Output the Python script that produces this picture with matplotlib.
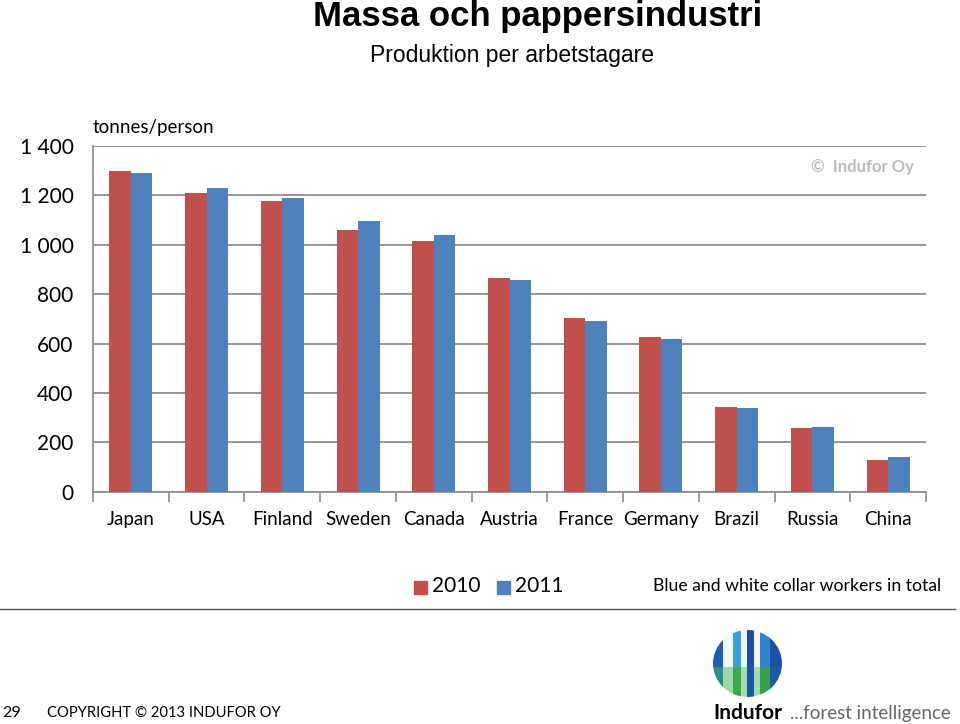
import numpy as np
import matplotlib.pyplot as plt
from matplotlib.patches import Ellipse, Rectangle

countries = ['Japan', 'USA', 'Finland', 'Sweden', 'Canada', 'Austria',
             'France', 'Germany', 'Brazil', 'Russia', 'China']
prod_2010 = [1298, 1210, 1178, 1059, 1017, 865, 703, 627, 343, 259, 127]
prod_2011 = [1291, 1228, 1191, 1097, 1039, 857, 690, 617, 340, 262, 139]
yticks = [0, 200, 400, 600, 800, 1000, 1200, 1400]
ytick_labels = ['0', '200', '400', '600', '800', '1 000', '1 200', '1 400']

RED = '#C0504D'
BLUE = '#4F81BD'
GRID = '#8C8C8C'
BODY = 'Lato'

fig = plt.figure(figsize=(9.6, 7.24), dpi=100)
ax = fig.add_axes([0.0969, 0.3209, 0.8677, 0.4774])

x = np.arange(len(countries))
w = 0.284
ax.bar(x - w / 2, prod_2010, w, color=RED, zorder=3)
ax.bar(x + w / 2, prod_2011, w, color=BLUE, zorder=3)

ax.set_xlim(-0.5, len(countries) - 0.5)
ax.set_ylim(0, 1400)
ax.set_yticks(yticks)
ax.set_yticklabels(ytick_labels, fontsize=15, family=BODY)
ax.tick_params(axis='y', length=0, pad=14)
ax.set_xticks(x)
ax.set_xticklabels(countries, fontsize=13.5, family=BODY)
ax.tick_params(axis='x', length=0, pad=14)
ax.set_xticks(np.arange(-0.5, len(countries)), minor=True)
ax.tick_params(axis='x', which='minor', length=7, color=GRID, width=1.2, direction='out')
ax.grid(axis='y', color=GRID, linewidth=1.3, zorder=0)
for s in ['top', 'right']:
    ax.spines[s].set_visible(False)
for s in ['left', 'bottom']:
    ax.spines[s].set_color(GRID)
    ax.spines[s].set_linewidth(1.3)

ax.text(0.0, 1.028, 'tonnes/person', transform=ax.transAxes, fontsize=13.5,
        family=BODY, ha='left', va='bottom')
ax.text(0.985, 0.94, '\u00a9  Indufor Oy', transform=ax.transAxes, fontsize=12,
        family=BODY, weight='bold', color='#BBBBBB', ha='right', va='center')

# titles
fig.text(0.56, 0.977, 'Massa och pappersindustri', fontsize=25, weight='bold',
         family='Liberation Sans', ha='center', va='center')
fig.text(0.533, 0.924, 'Produktion per arbetstagare', fontsize=16.5,
         family='Liberation Sans', ha='center', va='center')

# legend
ly = 1 - 586 / 724
fig.patches.append(Rectangle((414 / 960, ly - 0.0105), 13 / 960, 13 / 724,
                             transform=fig.transFigure, color=RED))
fig.text(432 / 960, ly, '2010', fontsize=15, family=BODY, va='center')
fig.patches.append(Rectangle((497 / 960, ly - 0.0105), 13 / 960, 13 / 724,
                             transform=fig.transFigure, color=BLUE))
fig.text(515 / 960, ly, '2011', fontsize=15, family=BODY, va='center')
fig.text(653 / 960, ly, 'Blue and white collar workers in total', fontsize=12.7,
         family=BODY, va='center')

# separator line
fig.add_artist(plt.Line2D([0, 955 / 960], [1 - 609 / 724] * 2,
                          transform=fig.transFigure, color='#555555', linewidth=1))

# footer
fy = 1 - 713 / 724
fig.text(2 / 960, fy, '29', fontsize=11.5, family=BODY, va='center')
fig.text(47 / 960, fy, 'COPYRIGHT \u00a9 2013 INDUFOR OY', fontsize=10.6,
         family=BODY, va='center')

# logo
lax = fig.add_axes([713 / 960, 1 - 697 / 724, 69 / 960, 67 / 724])
lax.set_xlim(0, 1)
lax.set_ylim(0, 1)
lax.axis('off')
clip = Ellipse((0.5, 0.5), 1.0, 1.0, transform=lax.transData, facecolor='none')
lax.add_patch(clip)
# (left, width, top colour, bottom colour)
stripes = [(0.00, 0.15, '#1F5DB5', '#2A8F8A'), (0.15, 0.14, '#F2F7FB', '#9FD8A8'),
           (0.29, 0.12, '#3AA2DE', '#3DAA4A'), (0.41, 0.08, '#EEF6FB', '#A8DCB0'),
           (0.49, 0.10, '#1A4FA8', '#1C56A8'), (0.59, 0.09, '#F0F6FB', '#A5DAAE'),
           (0.68, 0.15, '#2F86CF', '#36A050'), (0.83, 0.17, '#1D4FA5', '#1E5AA8')]
for x0, sw, ctop, cbot in stripes:
    for y0, c in [(0.45, ctop), (0.0, cbot)]:
        r = Rectangle((x0, y0), sw, 0.55 if y0 else 0.45, color=c, linewidth=0)
        r.set_clip_path(clip)
        lax.add_patch(r)
fig.text(713 / 960, fy, 'Indufor', fontsize=15, weight='bold',
         family=BODY, va='center')
fig.text(790 / 960, fy, '...forest intelligence', fontsize=13.5,
         family=BODY, color='#666666', va='center')

fig.savefig('out.png', dpi=100)
